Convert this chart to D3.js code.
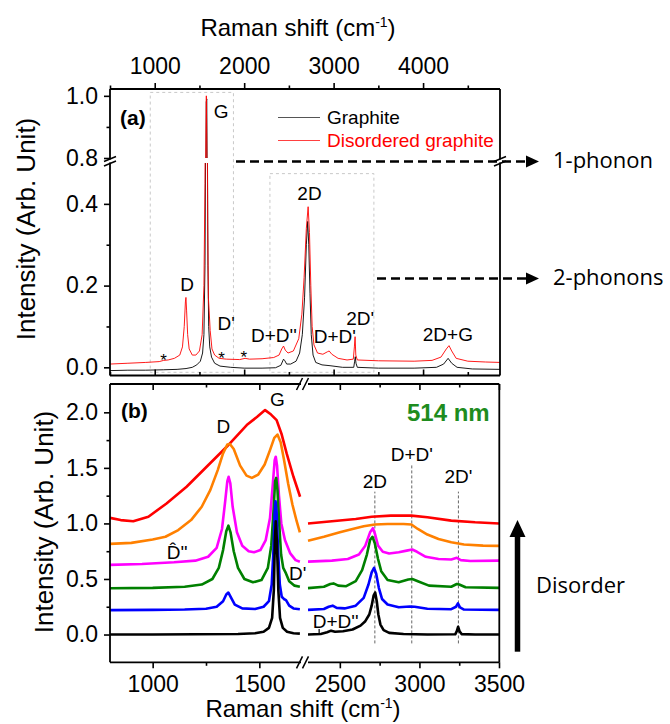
<!DOCTYPE html>
<html><head><meta charset="utf-8">
<script src="https://cdn.jsdelivr.net/npm/d3@7"></script>
<style>body{margin:0;background:#fff}svg{display:block}</style>
</head><body><svg id="c" width="670" height="724"></svg>
<script>
// ---------- Panel (a) data: [Raman shift, intensity] ----------
const aGraphite = [[500,-0.008],[700,-0.007],[900,-0.007],[1100,-0.006],[1250,-0.005],[1350,-0.003],[1420,0.0],[1470,0.006],[1510,0.015],[1535,0.035],[1550,0.08],[1562,0.25],[1570,0.6],[1576,0.98],[1582,0.99],[1588,0.6],[1595,0.25],[1603,0.1],[1615,0.05],[1635,0.025],[1670,0.01],[1730,0.003],[1850,0.0],[2000,-0.002],[2200,-0.002],[2350,-0.001],[2410,0.005],[2440,0.02],[2455,0.016],[2475,0.008],[2520,0.008],[2580,0.015],[2620,0.035],[2650,0.08],[2675,0.17],[2695,0.3],[2710,0.357],[2722,0.3],[2736,0.18],[2750,0.08],[2770,0.03],[2800,0.012],[2870,0.006],[2960,0.004],[3100,0.0],[3225,0.0],[3235,0.015],[3242,0.026],[3250,0.01],[3265,0.0],[3500,-0.002],[3900,-0.002],[4150,0.0],[4230,0.008],[4280,0.022],[4320,0.01],[4380,0.0],[4550,-0.004],[4860,-0.005]];
const aDisordered = [[500,0.008],[700,0.01],[900,0.012],[1050,0.014],[1100,0.017],[1150,0.018],[1220,0.022],[1280,0.03],[1310,0.05],[1330,0.1],[1343,0.16],[1349,0.171],[1356,0.14],[1368,0.08],[1385,0.045],[1420,0.03],[1460,0.03],[1500,0.04],[1530,0.08],[1550,0.2],[1562,0.45],[1570,0.8],[1577,1.0],[1584,0.8],[1592,0.35],[1600,0.17],[1608,0.14],[1620,0.09],[1640,0.045],[1670,0.03],[1720,0.022],[1800,0.02],[1950,0.019],[2010,0.022],[2060,0.02],[2200,0.021],[2330,0.024],[2390,0.03],[2420,0.045],[2440,0.052],[2460,0.042],[2490,0.035],[2550,0.04],[2610,0.07],[2645,0.13],[2670,0.22],[2695,0.34],[2715,0.393],[2730,0.33],[2745,0.2],[2760,0.1],[2780,0.055],[2820,0.035],[2880,0.032],[2930,0.038],[2950,0.04],[2980,0.032],[3050,0.022],[3150,0.018],[3220,0.02],[3232,0.05],[3240,0.075],[3248,0.03],[3265,0.018],[3500,0.016],[3900,0.015],[4100,0.017],[4200,0.025],[4260,0.045],[4290,0.053],[4320,0.04],[4370,0.022],[4500,0.015],[4700,0.013],[4860,0.012]];
const aXMajor = [1000,2000,3000,4000];
const aXMinor = [500,1500,2500,3500,4500];
const aYLowMajor = [0,0.2,0.4], aYLowMinor = [0.1,0.3];
const aYHighMajor = [0.8,1.0], aYHighMinor = [0.9];
const aLabels = [["D",1363,0.187],["D'",1800,0.091],["D+D''",2332,0.063],["2D",2730,0.409],["D+D'",3014,0.06],["2D'",3297,0.104],["2D+G",4277,0.064]];
const aStars = [[1100,0.028],[1747,0.032],[1997,0.034]];

// ---------- Panel (b) data ----------
const bBlack = [[800,0],[1000,0],[1200,0.002],[1400,0.005],[1480,0.012],[1520,0.025],[1545,0.06],[1560,0.15],[1568,0.4],[1573,0.85],[1577,1.02],[1582,0.85],[1589,0.4],[1597,0.15],[1610,0.06],[1630,0.025],[1660,0.012],[1690,0.008],
  [2300,0.0],[2380,0.005],[2420,0.02],[2445,0.035],[2470,0.025],[2520,0.03],[2580,0.045],[2630,0.08],[2660,0.12],[2685,0.18],[2700,0.26],[2712,0.35],[2722,0.378],[2732,0.3],[2742,0.18],[2755,0.09],[2775,0.04],[2810,0.015],[2900,0.005],[3050,0.0],[3225,0.002],[3235,0.03],[3243,0.07],[3252,0.03],[3265,0.004],[3350,0.0],[3500,0.0]];
const bBlue = [[800,0.22],[1000,0.222],[1150,0.225],[1250,0.232],[1300,0.25],[1330,0.3],[1345,0.36],[1355,0.378],[1368,0.33],[1385,0.27],[1420,0.235],[1480,0.23],[1520,0.25],[1545,0.3],[1558,0.45],[1566,0.75],[1572,1.1],[1576,1.2],[1581,1.1],[1588,0.75],[1596,0.45],[1605,0.34],[1615,0.32],[1625,0.31],[1640,0.26],[1660,0.235],[1690,0.228],
  [2300,0.222],[2400,0.23],[2430,0.25],[2455,0.26],[2480,0.24],[2530,0.235],[2600,0.26],[2650,0.33],[2680,0.45],[2700,0.56],[2715,0.6],[2728,0.55],[2745,0.42],[2765,0.32],[2800,0.27],[2870,0.245],[2940,0.252],[2970,0.25],[3050,0.232],[3200,0.228],[3230,0.25],[3242,0.28],[3255,0.245],[3280,0.225],[3500,0.222]];
const bGreen = [[800,0.417],[1000,0.42],[1150,0.43],[1230,0.45],[1280,0.5],[1310,0.6],[1330,0.76],[1345,0.93],[1355,0.98],[1365,0.92],[1380,0.75],[1400,0.6],[1430,0.5],[1470,0.47],[1510,0.49],[1540,0.6],[1556,0.8],[1566,1.1],[1574,1.38],[1579,1.41],[1585,1.3],[1593,1.0],[1602,0.72],[1612,0.6],[1625,0.55],[1640,0.48],[1665,0.44],[1690,0.43],
  [2300,0.418],[2400,0.43],[2440,0.455],[2460,0.46],[2490,0.44],[2540,0.435],[2600,0.48],[2640,0.58],[2670,0.72],[2690,0.85],[2705,0.88],[2720,0.82],[2740,0.68],[2760,0.57],[2800,0.49],[2870,0.47],[2930,0.495],[2955,0.5],[2990,0.48],[3060,0.44],[3200,0.43],[3235,0.455],[3250,0.45],[3290,0.425],[3500,0.42]];
const bMagenta = [[800,0.627],[950,0.635],[1100,0.65],[1200,0.665],[1260,0.7],[1300,0.78],[1325,0.95],[1340,1.2],[1350,1.38],[1356,1.42],[1364,1.36],[1375,1.15],[1395,0.92],[1420,0.8],[1450,0.75],[1475,0.74],[1505,0.76],[1530,0.85],[1550,1.05],[1563,1.35],[1572,1.57],[1577,1.6],[1583,1.52],[1592,1.25],[1603,1.0],[1620,0.85],[1645,0.73],[1670,0.67],[1690,0.655],
  [2300,0.656],[2450,0.665],[2550,0.68],[2620,0.72],[2660,0.8],[2690,0.92],[2708,0.957],[2722,0.9],[2740,0.8],[2770,0.745],[2810,0.73],[2870,0.74],[2920,0.755],[2955,0.765],[2985,0.745],[3040,0.7],[3120,0.68],[3200,0.675],[3235,0.69],[3260,0.67],[3320,0.662],[3500,0.665]];
const bOrange = [[800,0.816],[900,0.825],[1000,0.855],[1060,0.88],[1120,0.94],[1180,1.03],[1230,1.15],[1270,1.3],[1305,1.48],[1330,1.63],[1350,1.71],[1362,1.715],[1380,1.67],[1410,1.52],[1440,1.43],[1465,1.41],[1495,1.44],[1525,1.53],[1550,1.66],[1570,1.77],[1585,1.8],[1600,1.73],[1615,1.58],[1635,1.36],[1655,1.17],[1675,1.02],[1690,0.92],
  [2300,0.845],[2400,0.88],[2500,0.92],[2580,0.95],[2650,0.975],[2720,0.99],[2800,0.995],[2900,0.995],[2950,0.99],[2990,0.95],[3050,0.9],[3120,0.86],[3200,0.83],[3280,0.81],[3400,0.8],[3500,0.798]];
const bRed = [[800,1.05],[850,1.03],[909,1.02],[980,1.06],[1065,1.18],[1159,1.33],[1253,1.51],[1347,1.69],[1441,1.885],[1490,1.96],[1527,2.02],[1555,1.98],[1581,1.93],[1605,1.8],[1628,1.63],[1660,1.42],[1691,1.24],
  [2300,1.0],[2450,1.02],[2600,1.04],[2700,1.06],[2820,1.07],[2950,1.07],[3050,1.055],[3200,1.025],[3350,1.01],[3500,1.0]];
const bSeries = [["#ff0000",bRed],["#ff8000",bOrange],["#ff00ff",bMagenta],["#008000",bGreen],["#0000ff",bBlue],["#000000",bBlack]];
const bYMajor = [0,0.5,1.0,1.5,2.0], bYMinor = [0.25,0.75,1.25,1.75];
const bXLMajor = [1000,1500], bXLMinor = [1250];
const bXRMajor = [2500,3000,3500], bXRMinor = [2750,3250];
// [label, Raman shift, label level, dashed-line top level]
const bMarkers = [["2D",2720,1.319,1.286],["D+D'",2952,1.566,1.54],["2D'",3245,1.368,1.286]];

// ---------- setup ----------
const svg = d3.select("#c");
const F = "'Liberation Sans', Arial, Helvetica, sans-serif";
const C = "'Open Sans', 'Noto Sans', sans-serif";
const defs = svg.append("defs");

function txt(g, s, x, y, o) {
  o = o || {};
  return g.append("text").attr("x", x).attr("y", y).text(s)
    .attr("font-family", o.ff || F).attr("font-size", o.fs || 19)
    .attr("font-weight", o.fw || "normal").attr("fill", o.fill || "#000")
    .attr("text-anchor", o.anchor || "start");
}
function styleAxis(g, fs) {
  g.attr("font-family", F).attr("font-size", fs || 23);
  g.selectAll("path.domain").remove();
  g.selectAll("line").attr("stroke", "#000").attr("stroke-width", 1.6);
  return g;
}
function seg(g, x1, y1, x2, y2, w) {
  return g.append("line").attr("x1", x1).attr("y1", y1).attr("x2", x2).attr("y2", y2)
    .attr("stroke", "#000").attr("stroke-width", w || 1.8);
}

// ================= Panel (a) =================
const ax = d3.scaleLinear().domain([500, 4860]).range([110, 500]);
const ayLow = d3.scaleLinear().domain([-0.02, 0.5]).range([375.5, 163]);
const ayHigh = d3.scaleLinear().domain([0.8, 1.022]).range([158, 89]);
defs.append("clipPath").attr("id", "clipLow").append("rect").attr("x", 110).attr("y", 163).attr("width", 390).attr("height", 212.5);
defs.append("clipPath").attr("id", "clipHigh").append("rect").attr("x", 110).attr("y", 89).attr("width", 390).attr("height", 69);
const ga = svg.append("g");

// dashed boxes
const boxStyle = s => s.attr("fill", "none").attr("stroke", "#c8c8c8").attr("stroke-width", 1).attr("stroke-dasharray", "3,3");
boxStyle(ga.append("rect").attr("x", ax(950)).attr("y", ayHigh(1.011)).attr("width", ax(1880) - ax(950)).attr("height", 372.3 - ayHigh(1.011)));
boxStyle(ga.append("rect").attr("x", ax(2288)).attr("y", ayLow(0.474)).attr("width", ax(3450) - ax(2288)).attr("height", 372.3 - ayLow(0.474)));

// curves (two y segments)
[["#000000", aGraphite, 0.9], ["#ff0000", aDisordered, 0.9]].forEach(([col, data, w]) => {
  [["clipLow", ayLow], ["clipHigh", ayHigh]].forEach(([cid, ys]) => {
    ga.append("path").datum(data).attr("clip-path", `url(#${cid})`)
      .attr("fill", "none").attr("stroke", col).attr("stroke-width", w)
      .attr("d", d3.line().x(d => ax(d[0])).y(d => ys(d[1])));
  });
});

// frame
seg(ga, 110, 89, 500, 89); seg(ga, 110, 375.5, 500, 375.5);
seg(ga, 110, 89, 110, 159.5); seg(ga, 110, 162.5, 110, 375.5);
seg(ga, 500, 89, 500, 159.5); seg(ga, 500, 162.5, 500, 375.5);
[110, 500].forEach(x0 => {
  seg(ga, x0 - 6, 161.5, x0 + 6, 156.5, 1.5);
  seg(ga, x0 - 6, 166, x0 + 6, 161, 1.5);
});

// axes
styleAxis(ga.append("g").attr("transform", "translate(0,89)").call(d3.axisTop(ax).tickValues(aXMajor).tickSize(6).tickPadding(9).tickFormat(d3.format("d"))));
styleAxis(ga.append("g").attr("transform", "translate(0,89)").call(d3.axisTop(ax).tickValues(aXMinor).tickSize(3.5).tickFormat("")));
styleAxis(ga.append("g").attr("transform", "translate(0,375.5)").call(d3.axisBottom(ax).tickValues(aXMajor).tickSize(-6).tickFormat("")));
styleAxis(ga.append("g").attr("transform", "translate(0,375.5)").call(d3.axisBottom(ax).tickValues(aXMinor).tickSize(-3.5).tickFormat("")));
styleAxis(ga.append("g").attr("transform", "translate(110,0)").call(d3.axisLeft(ayLow).tickValues(aYLowMajor).tickSize(6).tickPadding(6).tickFormat(d3.format(".1f"))));
styleAxis(ga.append("g").attr("transform", "translate(110,0)").call(d3.axisLeft(ayLow).tickValues(aYLowMinor).tickSize(3.5).tickFormat("")));
styleAxis(ga.append("g").attr("transform", "translate(110,0)").call(d3.axisLeft(ayHigh).tickValues(aYHighMajor).tickSize(6).tickPadding(6).tickFormat(d3.format(".1f"))));
styleAxis(ga.append("g").attr("transform", "translate(110,0)").call(d3.axisLeft(ayHigh).tickValues(aYHighMinor).tickSize(3.5).tickFormat("")));

// titles
const t1 = txt(svg, "Raman shift (cm", 298, 36, { fs: 24, anchor: "middle" });
t1.append("tspan").attr("dy", -9).attr("font-size", 14).text("-1");
t1.append("tspan").attr("dy", 9).text(")");
txt(svg, "Intensity (Arb. Unit)", 0, 0, { fs: 26, anchor: "middle" }).attr("transform", "translate(35,229) rotate(-90)");

// labels
txt(ga, "(a)", 120, 125, { fs: 21, fw: "bold" });
txt(ga, "G", ax(1660), ayHigh(0.93), { fs: 19 });
aLabels.forEach(([s, x, v]) => txt(ga, s, ax(x), ayLow(v), { fs: 19, anchor: "middle" }));
aStars.forEach(([x, v]) => txt(ga, "*", ax(x), ayLow(v) + 10, { fs: 17, anchor: "middle" }));

// legend
ga.append("line").attr("x1", 278).attr("x2", 320).attr("y1", 117.5).attr("y2", 117.5).attr("stroke", "#555").attr("stroke-width", 1);
txt(ga, "Graphite", 327, 124, { fs: 19 });
ga.append("line").attr("x1", 278).attr("x2", 320).attr("y1", 140.5).attr("y2", 140.5).attr("stroke", "#ff4040").attr("stroke-width", 1);
txt(ga, "Disordered graphite", 327, 147, { fs: 19, fill: "#ff0000" });

// phonon arrows
function dashArrow(x1, x2, y) {
  svg.append("line").attr("x1", x1).attr("x2", x2 - 11).attr("y1", y).attr("y2", y)
    .attr("stroke", "#000").attr("stroke-width", 2.6).attr("stroke-dasharray", "9,5");
  svg.append("path").attr("d", `M${x2 - 13},${y - 6}L${x2},${y}L${x2 - 13},${y + 6}Z`).attr("fill", "#000");
}
dashArrow(236, 539, 161.5);
dashArrow(377, 539, 278.5);
txt(svg, "1-phonon", 553, 168, { ff: C, fs: 22 });
txt(svg, "2-phonons", 553, 285, { ff: C, fs: 22 });

// ================= Panel (b) =================
const bxL = d3.scaleLinear().domain([800, 1700]).range([110, 302]);
const bxR = d3.scaleLinear().domain([2300, 3500]).range([308, 499]);
const by = d3.scaleLinear().domain([-0.25, 2.255]).range([662.3, 384]);
const gb = svg.append("g");

// dashed markers
bMarkers.forEach(([s, x, vl, vt]) => {
  gb.append("line").attr("x1", bxR(x)).attr("x2", bxR(x)).attr("y1", by(-0.08)).attr("y2", by(vt))
    .attr("stroke", "#555").attr("stroke-width", 0.9).attr("stroke-dasharray", "3,2");
});

bSeries.forEach(([col, data]) => {
  [[d => d[0] < 2000, bxL], [d => d[0] > 2000, bxR]].forEach(([f, xs]) => {
    gb.append("path").datum(data.filter(f)).attr("fill", "none").attr("stroke", col)
      .attr("stroke-width", 2.6).attr("stroke-linejoin", "round")
      .attr("d", d3.line().x(d => xs(d[0])).y(d => by(d[1])));
  });
});

// frame
seg(gb, 110, 384, 110, 662.3); seg(gb, 499.3, 384, 499.3, 662.3);
seg(gb, 110, 384, 301, 384); seg(gb, 308, 384, 499.3, 384);
seg(gb, 110, 662.3, 301, 662.3); seg(gb, 308, 662.3, 499.3, 662.3);
[384, 662.3].forEach(y0 => {
  seg(gb, 296.5, y0 + 6, 302.5, y0 - 6, 1.5);
  seg(gb, 302.5, y0 + 6, 308.5, y0 - 6, 1.5);
});

styleAxis(gb.append("g").attr("transform", "translate(110,0)").call(d3.axisLeft(by).tickValues(bYMajor).tickSize(6).tickPadding(6).tickFormat(d3.format(".1f"))));
styleAxis(gb.append("g").attr("transform", "translate(110,0)").call(d3.axisLeft(by).tickValues(bYMinor).tickSize(3.5).tickFormat("")));
[[bxL, bXLMajor, bXLMinor], [bxR, bXRMajor, bXRMinor]].forEach(([xs, maj, mi]) => {
  styleAxis(gb.append("g").attr("transform", "translate(0,662.3)").call(d3.axisBottom(xs).tickValues(maj).tickSize(6).tickPadding(7).tickFormat(d3.format("d"))));
  styleAxis(gb.append("g").attr("transform", "translate(0,662.3)").call(d3.axisBottom(xs).tickValues(mi).tickSize(3.5).tickFormat("")));
  styleAxis(gb.append("g").attr("transform", "translate(0,384)").call(d3.axisTop(xs).tickValues(maj).tickSize(-6).tickFormat("")));
  styleAxis(gb.append("g").attr("transform", "translate(0,384)").call(d3.axisTop(xs).tickValues(mi).tickSize(-3.5).tickFormat("")));
});

const t2 = txt(svg, "Raman shift (cm", 303, 717, { fs: 24, anchor: "middle" });
t2.append("tspan").attr("dy", -9).attr("font-size", 14).text("-1");
t2.append("tspan").attr("dy", 9).text(")");
txt(svg, "Intensity (Arb. Unit)", 0, 0, { fs: 26, anchor: "middle" }).attr("transform", "translate(53,522) rotate(-90)");

txt(gb, "(b)", 121, 418, { fs: 21, fw: "bold" });
txt(gb, "514 nm", 407, 421, { fs: 24, fw: "bold", fill: "#1e8c1e" });
txt(gb, "G", bxL(1575) + 2, 406, { fs: 19, anchor: "middle" });
txt(gb, "D", bxL(1355) - 5, 433, { fs: 19, anchor: "middle" });
txt(gb, "D\u0302''", bxL(1115), 559, { fs: 19, anchor: "middle" });
txt(gb, "D'", bxL(1639), 580, { fs: 19 });
txt(gb, "D+D''", bxR(2330), 628, { fs: 19 });
gb.append("line").attr("x1", bxR(2370)).attr("x2", bxR(2370)).attr("y1", 629).attr("y2", by(0)).attr("stroke", "#000").attr("stroke-width", 1.2);
bMarkers.forEach(([s, x, vl]) => txt(gb, s, bxR(x), by(vl), { fs: 19, anchor: "middle" }));

// Disorder arrow
svg.append("line").attr("x1", 517.5).attr("x2", 517.5).attr("y1", 651.7).attr("y2", 534).attr("stroke", "#000").attr("stroke-width", 5.5);
svg.append("path").attr("d", "M509.5,537L517.5,520L525.5,537Z").attr("fill", "#000");
txt(svg, "Disorder", 536, 593, { ff: C, fs: 22 });
</script></body></html>
